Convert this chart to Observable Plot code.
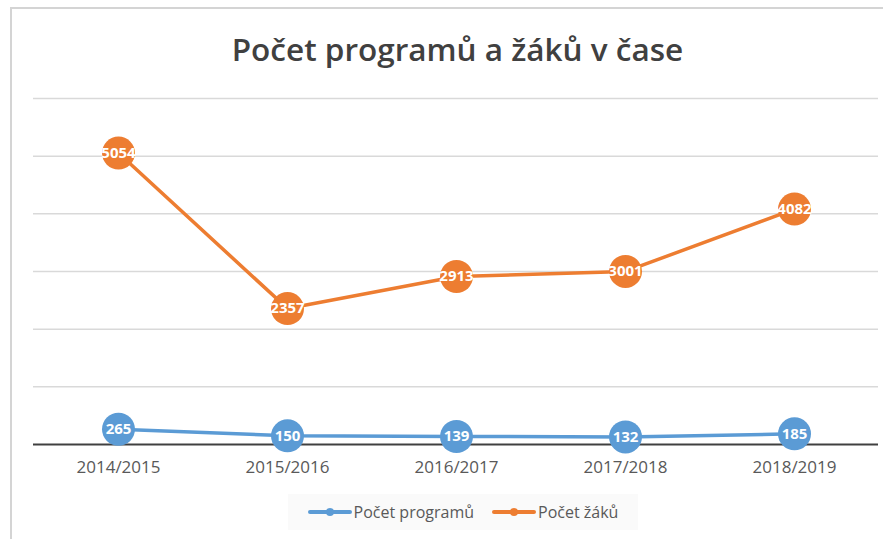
<!DOCTYPE html>
<html>
<head>
<meta charset="utf-8">
<script src="https://cdn.jsdelivr.net/npm/d3@7"></script>
<script src="https://cdn.jsdelivr.net/npm/@observablehq/plot@0.6"></script>
<style>
  html, body { margin: 0; padding: 0; background: #fff; }
  #page { position: relative; width: 883px; height: 539px; overflow: hidden; font-family: "Open Sans", sans-serif; }
  #frame { position: absolute; left: 10px; top: 7px; width: 880px; height: 540px; border-left: 2px solid #d4d4d4; border-top: 2px solid #d4d4d4; }
  #title { position: absolute; left: 0; width: 915px; top: 28px; text-align: center; font-size: 31.5px; font-weight: 600; color: #404040; line-height: 42px; }
  #chart { position: absolute; left: 0; top: 80px; }
  #legend { position: absolute; left: 288px; top: 494px; width: 350px; height: 36px; background: #fafafa; display: flex; align-items: center; justify-content: center; gap: 18px; font-size: 16px; color: #595959; }
  .item { display: flex; align-items: center; gap: 2px; }
</style>
</head>
<body>
<div id="page">
  <div id="frame"></div>
  <div id="title">Počet programů a žáků v čase</div>
  <div id="chart"></div>
  <div id="legend"></div>
</div>
<script>
const years = ["2014/2015", "2015/2016", "2016/2017", "2017/2018", "2018/2019"];
const programs = [265, 150, 139, 132, 185];
const students = [5054, 2357, 2913, 3001, 4082];
const gridTicks = [1000, 2000, 3000, 4000, 5000, 6000];
const seriesNames = ["Počet programů", "Počet žáků"];
const seriesColors = ["#5B9BD5", "#ED7D31"];

const data = [];
years.forEach((y, i) => {
  data.push({year: y, value: programs[i], series: seriesNames[0]});
  data.push({year: y, value: students[i], series: seriesNames[1]});
});

const plot = Plot.plot({
  width: 883,
  height: 400,
  marginLeft: 33,
  marginRight: 5,
  marginTop: 18,
  marginBottom: 36,
  style: {fontFamily: "Open Sans, sans-serif", background: "transparent"},
  x: {type: "point", domain: years, padding: 0.5, label: null},
  y: {domain: [0, 6000], axis: null},
  color: {domain: seriesNames, range: seriesColors},
  marks: [
    Plot.ruleY(gridTicks, {stroke: "#d9d9d9", strokeWidth: 1.5}),
    Plot.ruleY([0], {stroke: "#404040", strokeWidth: 2}),
    Plot.axisX({tickSize: 0, tickPadding: 16, fontSize: 17, fill: "#595959", label: null}),
    Plot.line(data, {x: "year", y: "value", z: "series", stroke: "series", strokeWidth: 3.5}),
    Plot.dot(data, {x: "year", y: "value", fill: "series", r: 16.5, stroke: "none"}),
    Plot.text(data, {x: "year", y: "value", text: d => String(d.value), fill: "white", fontWeight: "bold", fontSize: 15})
  ]
});
document.getElementById("chart").appendChild(plot);

const legend = document.getElementById("legend");
seriesNames.forEach((name, i) => {
  const item = document.createElement("div");
  item.className = "item";
  item.innerHTML = `<svg width="44" height="10"><line x1="2" y1="5" x2="42" y2="5" stroke="${seriesColors[i]}" stroke-width="4" stroke-linecap="round"/><circle cx="22" cy="5" r="4" fill="${seriesColors[i]}"/></svg><span>${name}</span>`;
  legend.appendChild(item);
});
</script>
</body>
</html>
